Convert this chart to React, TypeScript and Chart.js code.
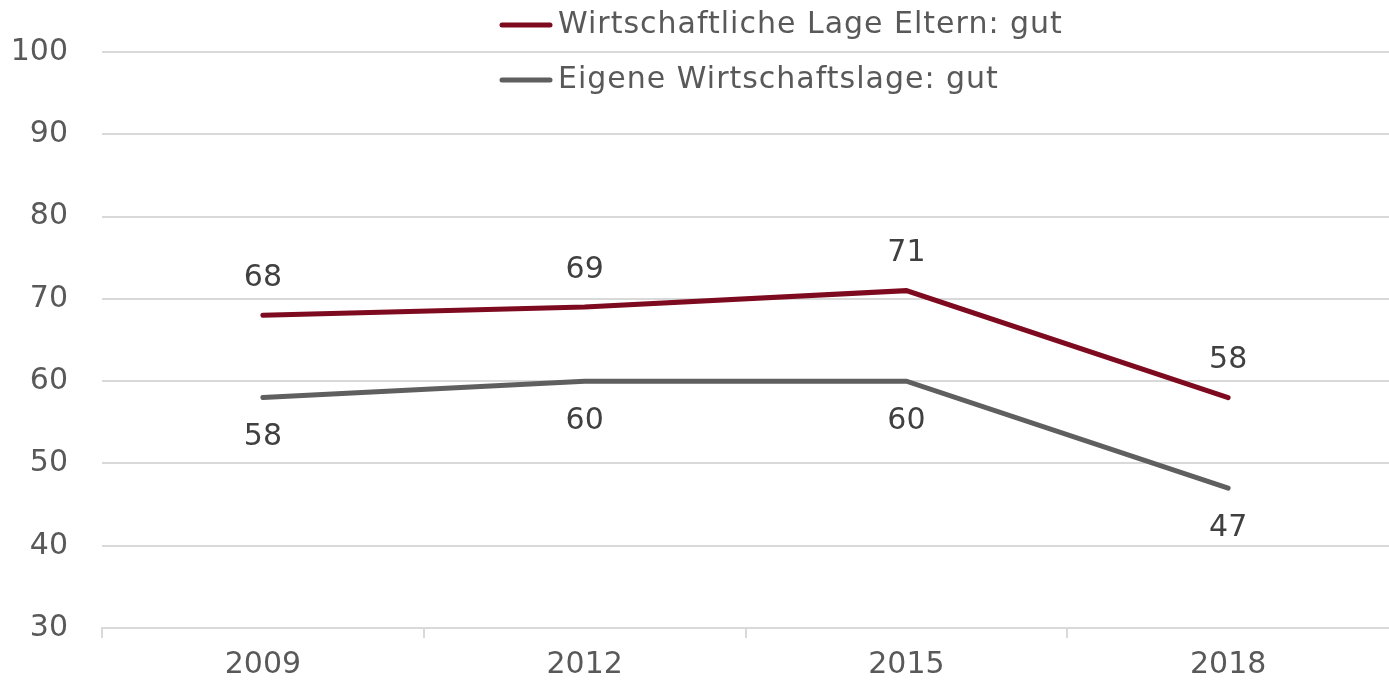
import React, { useEffect, useRef } from "react";
import { Chart, registerables } from "chart.js";

Chart.register(...registerables);

const years = ["2009", "2012", "2015", "2018"];
const elternGut = [68, 69, 71, 58];
const eigeneGut = [58, 60, 60, 47];
const seriesNames = ["Wirtschaftliche Lage Eltern: gut", "Eigene Wirtschaftslage: gut"];
const seriesColors = ["#7d0a1f", "#5f5f5f"];
const yMin = 30;
const yMax = 100;
const yStep = 10;

const FONT = "'DejaVu Sans', Verdana, sans-serif";
const FS = 30;

const labelPlugin = {
  id: "valueLabels",
  afterDatasetsDraw(chart: any) {
    const ctx = chart.ctx;
    ctx.save();
    ctx.font = `${FS}px ${FONT}`;
    ctx.fillStyle = "#404040";
    ctx.textAlign = "center";
    ctx.textBaseline = "middle";
    chart.data.datasets.forEach((ds: any, i: number) => {
      const meta = chart.getDatasetMeta(i);
      meta.data.forEach((pt: any, j: number) => {
        const off = i === 0 ? -37 : 40;
        ctx.fillText(String(ds.data[j]), pt.x, pt.y + off);
      });
    });
    ctx.restore();
  },
};

const legendPlugin = {
  id: "customLegend",
  afterDraw(chart: any) {
    const ctx = chart.ctx;
    ctx.save();
    ctx.letterSpacing = "1px";
    ctx.font = `${FS}px ${FONT}`;
    ctx.textAlign = "left";
    ctx.textBaseline = "middle";
    chart.data.datasets.forEach((ds: any, i: number) => {
      const y = 25 + i * 55;
      ctx.strokeStyle = ds.borderColor;
      ctx.lineWidth = 5;
      ctx.lineCap = "round";
      ctx.beginPath();
      ctx.moveTo(502, y);
      ctx.lineTo(550, y);
      ctx.stroke();
      ctx.fillStyle = "#595959";
      ctx.fillText(ds.label, 558, y);
    });
    ctx.restore();
  },
};

export default function App() {
  const ref = useRef<HTMLCanvasElement | null>(null);
  useEffect(() => {
    if (!ref.current) return;
    const chart = new Chart(ref.current, {
      type: "line",
      data: {
        labels: years,
        datasets: [
          {
            label: seriesNames[0],
            data: elternGut,
            borderColor: seriesColors[0],
            backgroundColor: seriesColors[0],
            borderWidth: 5,
            pointRadius: 0,
            tension: 0,
            borderCapStyle: "round",
          },
          {
            label: seriesNames[1],
            data: eigeneGut,
            borderColor: seriesColors[1],
            backgroundColor: seriesColors[1],
            borderWidth: 5,
            pointRadius: 0,
            tension: 0,
            borderCapStyle: "round",
          },
        ],
      },
      options: {
        animation: false,
        responsive: false,
        devicePixelRatio: 1,
        layout: { padding: { top: 52, right: 0, left: 0, bottom: 0 } },
        plugins: {
          legend: { display: false },
          tooltip: { enabled: false },
        },
        scales: {
          x: {
            offset: true,
            grid: {
              offset: true,
              drawOnChartArea: false,
              drawTicks: true,
              tickLength: 10,
              color: (c: any) =>
                c.type !== "tick" || c.index === years.length ? "rgba(0,0,0,0)" : "#d9d9d9",
              lineWidth: 2,
            },
            border: { display: true, color: "#d9d9d9", width: 2 },
            ticks: {
              color: "#595959",
              font: { family: FONT, size: FS },
              padding: 9,
              maxRotation: 0,
            },
            afterFit(scale: any) {
              scale.height = 56;
            },
          },
          y: {
            min: yMin,
            max: yMax,
            ticks: {
              stepSize: yStep,
              color: "#595959",
              font: { family: FONT, size: FS },
              padding: 34,
            },
            grid: { color: "#d9d9d9", lineWidth: 2, drawTicks: false },
            border: { display: false },
            afterFit(scale: any) {
              scale.width = 102;
            },
          },
        },
      },
      plugins: [labelPlugin, legendPlugin],
    });
    return () => chart.destroy();
  }, []);
  return (
    <div style={{ position: "absolute", left: 0, top: 0, width: 1389, height: 684, background: "#fff" }}>
      <canvas ref={ref} width={1389} height={684} />
    </div>
  );
}
